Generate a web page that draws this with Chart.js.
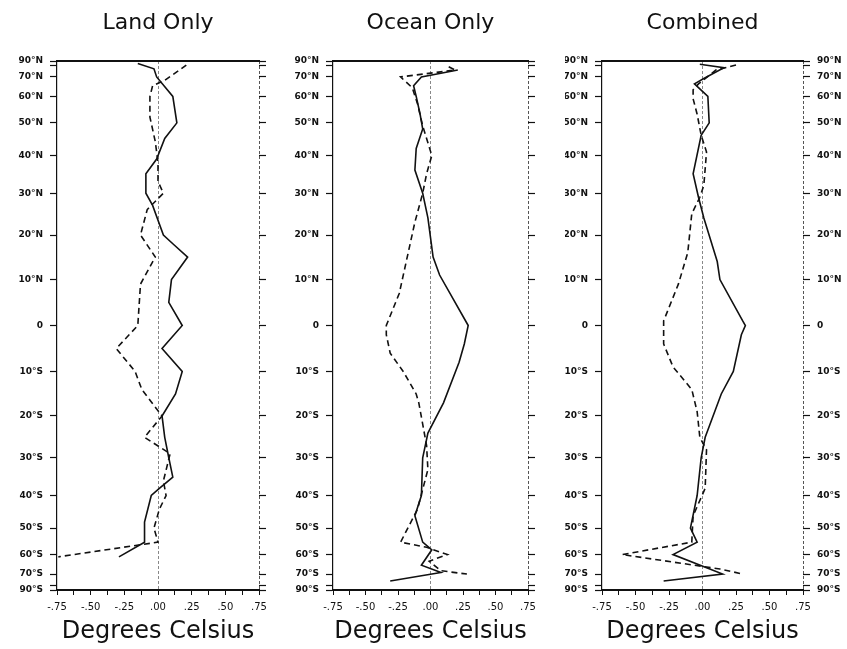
<!DOCTYPE html>
<html>
<head>
<meta charset="utf-8">
<script src="https://cdn.jsdelivr.net/npm/chart.js@4.4.1/dist/chart.umd.min.js"></script>
<style>
  html, body { margin: 0; padding: 0; background: #fff; }
  canvas { position: absolute; top: 0; }
</style>
</head>
<body>
<canvas id="land" width="290" height="649" style="left:0px"></canvas>
<canvas id="ocean" width="275" height="649" style="left:290px"></canvas>
<canvas id="combined" width="282" height="649" style="left:565px"></canvas>
<script>
// latitude ticks (degrees), the axis is spaced by sine of latitude
const latTicks = [90, 80, 70, 60, 50, 40, 30, 20, 10, 0, -10, -20, -30, -40, -50, -60, -70, -80, -90];
const xTicks = [-0.75, -0.625, -0.5, -0.375, -0.25, -0.125, 0, 0.125, 0.25, 0.375, 0.5, 0.625, 0.75];

// Land Only
const landSolidLat = [82, 76, 70, 60, 50, 45, 39, 35, 30, 27, 20, 18, 15, 10, 5, 0, -5, -10, -15, -20, -25, -30, -35, -38, -40, -48, -55, -61];
const landSolidVal = [-0.15, -0.03, -0.01, 0.11, 0.14, 0.05, -0.01, -0.09, -0.09, -0.04, 0.04, 0.11, 0.22, 0.10, 0.08, 0.18, 0.03, 0.18, 0.13, 0.03, 0.05, 0.08, 0.11, 0.01, -0.05, -0.10, -0.10, -0.29];
const landDashLat = [80, 75, 68, 65, 60, 52, 44, 38, 33, 30, 26, 20, 15, 9, 0, -5, -10, -14, -20, -25, -29, -36, -40, -44, -50, -55, -61];
const landDashVal = [0.21, 0.16, 0.05, -0.04, -0.06, -0.06, -0.02, 0.00, 0.00, 0.04, -0.08, -0.13, -0.02, -0.13, -0.15, -0.31, -0.17, -0.12, 0.03, -0.10, 0.09, 0.04, 0.06, 0.01, -0.03, 0.00, -0.74];

// Ocean Only
const oceanSolidLat = [75, 70, 65, 60, 53, 48, 42, 36, 30, 24, 15, 11, 0, -4, -8, -17, -24, -30, -40, -46, -55, -58, -65, -69, -75];
const oceanSolidVal = [0.21, -0.07, -0.13, -0.11, -0.08, -0.06, -0.11, -0.12, -0.06, -0.02, 0.02, 0.07, 0.29, 0.26, 0.22, 0.10, -0.02, -0.06, -0.07, -0.12, -0.06, 0.01, -0.07, 0.08, -0.31];
const oceanDashLat = [78, 75, 70, 64, 57, 49, 40, 35, 30, 23, 7, 0, -2, -6, -10, -15, -17, -27, -33, -44, -55, -57, -60, -63, -68, -70];
const oceanDashVal = [0.14, 0.19, -0.23, -0.14, -0.10, -0.06, 0.01, -0.03, -0.06, -0.12, -0.24, -0.34, -0.34, -0.31, -0.21, -0.11, -0.09, -0.03, -0.02, -0.10, -0.23, -0.03, 0.13, -0.01, 0.08, 0.28];

// Combined
const combSolidLat = [81, 77, 69, 66, 60, 50, 46, 35, 29, 24, 14, 10, 1, 0, -2, -10, -15, -25, -30, -40, -50, -55, -60, -70, -75];
const combSolidVal = [-0.02, 0.16, 0.01, -0.06, 0.04, 0.05, -0.01, -0.07, -0.03, 0.01, 0.11, 0.13, 0.30, 0.32, 0.29, 0.23, 0.14, 0.02, -0.01, -0.04, -0.09, -0.04, -0.22, 0.15, -0.29];
const combDashLat = [80, 75, 66, 63, 59, 53, 46, 41, 32, 29, 25, 16, 9, 1, -4, -9, -14, -19, -25, -28, -38, -46, -55, -60, -67, -70];
const combDashVal = [0.25, 0.10, -0.03, -0.07, -0.07, -0.04, -0.01, 0.03, 0.01, -0.02, -0.08, -0.11, -0.18, -0.29, -0.29, -0.22, -0.08, -0.04, -0.02, 0.03, 0.02, -0.07, -0.08, -0.60, 0.13, 0.30];

const rad = d => Math.sin(d * Math.PI / 180);
const toPoints = (lats, vals) => lats.map((l, i) => ({ x: vals[i], y: rad(l) }));

function latLabel(lat) {
    if (lat === 80 || lat === -80) return "";
    if (lat === 0) return "0";
    return lat > 0 ? lat + "°N" : (-lat) + "°S";
}

function xLabel(v) {
    if (Math.abs(v * 4 - Math.round(v * 4)) > 1e-6) return "";
    const s = Math.abs(v).toFixed(2).replace(/^0/, "");
    return v < 0 ? "-" + s : s;
}

const TOP = 61, BOTTOM = 590, H = 649;
const tickFont = { family: "DejaVu Sans", size: 9, weight: "bold" };

function makePanel(id, title, solid, dashed, leftW, rightW, rightLabels) {
    const yCommon = {
        type: "linear",
        min: -1,
        max: 1,
        afterBuildTicks: s => { s.ticks = latTicks.map(l => ({ value: rad(l) })); },
        grid: { drawOnChartArea: false, drawTicks: true, tickLength: 7, tickColor: "#111", tickWidth: 1.2 },
        ticks: { autoSkip: false, padding: 7, color: "#111", font: tickFont, callback: (v, i) => latLabel(latTicks[i]) }
    };
    return new Chart(document.getElementById(id), {
        type: "line",
        data: {
            datasets: [{
                data: solid,
                borderColor: "#111",
                borderWidth: 1.6,
                pointRadius: 0,
                tension: 0
            }, {
                data: dashed,
                borderColor: "#111",
                borderWidth: 1.6,
                borderDash: [6, 4],
                pointRadius: 0,
                tension: 0
            }]
        },
        options: {
            responsive: false,
            animation: false,
            layout: { padding: 0 },
            scales: {
                x: {
                    type: "linear",
                    position: "bottom",
                    min: -0.75,
                    max: 0.75,
                    afterBuildTicks: s => { s.ticks = xTicks.map(v => ({ value: v })); },
                    afterFit: s => { s.height = H - BOTTOM; },
                    border: { display: true, width: 2, color: "#111", dash: [3, 2] },
                    grid: {
                        drawOnChartArea: true,
                        drawTicks: true,
                        tickLength: 5,
                        tickColor: "#111",
                        lineWidth: 1,
                        color: c => {
                            const v = c.tick ? c.tick.value : null;
                            if (v === 0) return "#888";
                            if (v === 0.75) return "#555";
                            return "rgba(0,0,0,0)";
                        }
                    },
                    ticks: { autoSkip: false, maxRotation: 0, padding: 6, color: "#111", font: { family: "DejaVu Sans", size: 10 }, callback: v => xLabel(v) },
                    title: { display: true, text: "Degrees Celsius", color: "#111", font: { family: "DejaVu Sans", size: 24 }, padding: { top: 0, bottom: 3 } }
                },
                x2: {
                    type: "linear",
                    position: "top",
                    min: -0.75,
                    max: 0.75,
                    afterFit: s => { s.height = TOP; },
                    border: { display: true, width: 2, color: "#111" },
                    grid: { display: false },
                    ticks: { display: false },
                    title: { display: true, text: title, color: "#111", font: { family: "DejaVu Sans", size: 22 }, padding: { top: 10, bottom: 0 } }
                },
                y: Object.assign({}, yCommon, {
                    position: "left",
                    afterFit: s => { s.width = leftW; },
                    border: { display: true, width: 1.2, color: "#111" }
                }),
                y2: Object.assign({}, yCommon, {
                    position: "right",
                    afterFit: s => { s.width = rightW; },
                    border: { display: false },
                    ticks: Object.assign({}, yCommon.ticks, { display: rightLabels })
                })
            },
            plugins: {
                legend: { display: false },
                tooltip: { enabled: false },
                title: { display: false }
            }
        }
    });
}

makePanel("land", "Land Only", toPoints(landSolidLat, landSolidVal), toPoints(landDashLat, landDashVal), 57, 31, false);
makePanel("ocean", "Ocean Only", toPoints(oceanSolidLat, oceanSolidVal), toPoints(oceanDashLat, oceanDashVal), 43, 37, false);
makePanel("combined", "Combined", toPoints(combSolidLat, combSolidVal), toPoints(combDashLat, combDashVal), 37, 44, true);
</script>
</body>
</html>
